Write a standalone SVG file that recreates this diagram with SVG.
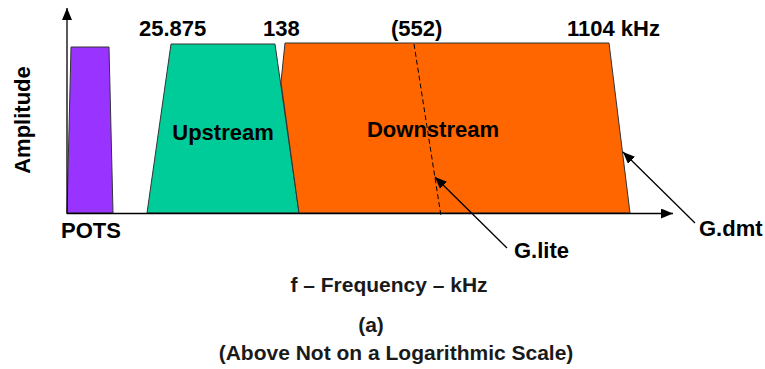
<svg xmlns="http://www.w3.org/2000/svg" width="765" height="369" viewBox="0 0 765 369">
<style>
text{font-family:"Liberation Sans",Arial,sans-serif;font-weight:bold;fill:#000}
.t{font-size:22px}
.b{font-size:21px;fill:#1a1a1a}
.band{stroke:#333;stroke-width:1}
.ax{stroke:#000;stroke-width:1.3;fill:none}
.ld{stroke:#000;stroke-width:1.3;fill:none}
</style>
<defs>
<marker id="ah" markerWidth="12" markerHeight="10" refX="12" refY="5" orient="auto" markerUnits="userSpaceOnUse">
<path d="M0,0 L12,5 L0,10 Z" fill="#000"/>
</marker>
</defs>
<rect width="765" height="369" fill="#fff"/>
<g id="pots">
<polygon class="band" points="71,47 109,47 113,213 67,213" fill="#9933FF"/>
<text class="t" x="61" y="238">POTS</text>
</g>
<g id="upstream">
<polygon class="band" points="171,44 275,44 299,213 147,213" fill="#00CC99"/>
<text class="t" x="223" y="140" text-anchor="middle">Upstream</text>
</g>
<g id="downstream">
<polygon class="band" points="285,43 609,43 630,213 299,213 281,82" fill="#FF6600"/>
<text class="t" x="433" y="137" text-anchor="middle">Downstream</text>
</g>
<g id="glite-line">
<line x1="414" y1="44" x2="441" y2="216" stroke="#000" stroke-width="1" stroke-dasharray="5,3"/>
</g>
<g id="axes">
<line class="ax" x1="67" y1="214" x2="67" y2="8" marker-end="url(#ah)"/>
<line class="ax" x1="67" y1="213.5" x2="673" y2="213.5" marker-end="url(#ah)"/>
</g>
<g id="labels">
<text class="t" x="139" y="36">25.875</text>
<text class="t" x="263" y="36">138</text>
<text class="t" x="391" y="36">(552)</text>
<text class="t" x="567" y="36">1104 kHz</text>
<text class="t" transform="translate(30,120) rotate(-90)" text-anchor="middle">Amplitude</text>
</g>
<g id="connectors">
<line class="ld" x1="507" y1="248" x2="435" y2="177" marker-end="url(#ah)"/>
<line class="ld" x1="695" y1="223" x2="623" y2="152" marker-end="url(#ah)"/>
</g>
<g id="glite">
<text class="t" x="514" y="258">G.lite</text>
</g>
<g id="gdmt">
<text class="t" x="699" y="236">G.dmt</text>
</g>
<g id="captions">
<text class="b" x="389" y="292" text-anchor="middle">f – Frequency – kHz</text>
<text class="b" x="371" y="332" text-anchor="middle">(a)</text>
<text class="b" x="396" y="360" text-anchor="middle">(Above Not on a Logarithmic Scale)</text>
</g>
</svg>
